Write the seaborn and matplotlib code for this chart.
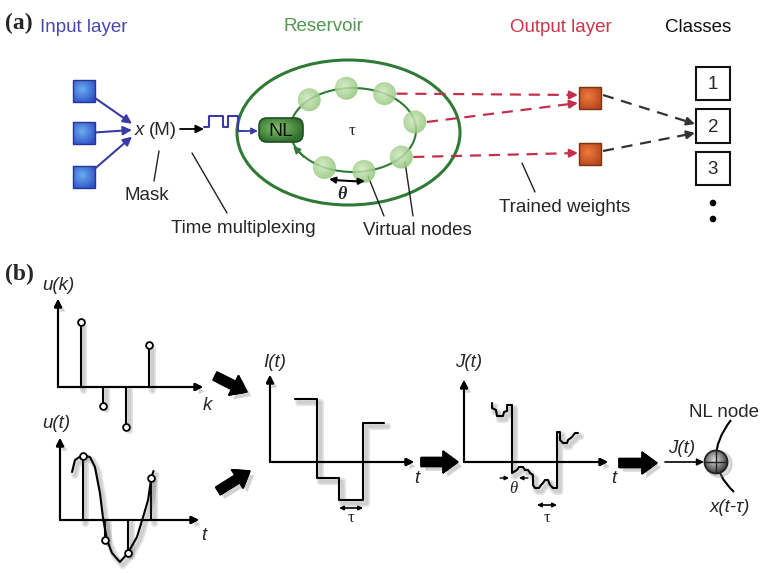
import numpy as np
import pandas as pd
import matplotlib
matplotlib.use("Agg")
import matplotlib.pyplot as plt
import matplotlib.patheffects as pe
from matplotlib.patches import Rectangle, Ellipse, Circle, FancyBboxPatch, FancyArrow, PathPatch
from matplotlib.path import Path
from matplotlib.colors import to_rgb
import seaborn as sns

# ---------------- data ----------------
input_nodes = ["in1", "in2", "in3"]
virtual_node_angles = [134, 96, 60, 11, -40, -80, -117]
connected_nodes = [60, 11, -40]
output_nodes = ["out1", "out2"]
class_labels = ["1", "2", "3"]
mask_levels = [0, 1, 0, 1, -0.35]

uk_k = [1, 2, 3, 4]
uk_val = [6.5, -1.9, -4.0, 4.2]

ut_t = [1, 2, 3, 4]
ut_val = [6.4, -2.0, -3.3, 4.2]
ut_curve_t = [0.53, 0.66, 1.0, 1.32, 1.54, 1.76, 1.89, 2.07, 2.29, 2.64, 2.99, 3.39, 3.66, 3.88, 4.02, 4.12]
ut_curve_v = [4.8, 6.0, 6.5, 6.3, 5.3, 2.7, 0.3, -2.0, -3.3, -4.2, -3.3, -1.7, 0.3, 2.0, 4.2, 4.9]

it_edges = [1.14, 2.14, 3.14, 4.23, 5.18]
it_levels = [6.3, -1.6, -3.8, 3.9]

jt_t = [2.8, 2.8, 3.2, 3.3, 3.9, 4.0, 4.3, 4.3, 4.8, 4.8, 5.3, 5.5, 5.9, 6.1, 6.4, 6.6,
        6.9, 6.9, 7.1, 7.5, 7.7, 7.9, 8.1, 8.4, 8.6, 8.9, 9.3, 9.3, 9.6, 9.6, 9.9,
        10.3, 10.4, 10.8, 11.1, 11.4]
jt_val = [5.9, 5.4, 5.2, 4.6, 4.6, 5.0, 5.1, 5.7, 5.7, -1.1, -0.8, -0.5, -0.5, -0.8, -0.8, -1.1,
          -1.3, -2.3, -2.6, -2.6, -2.3, -2.1, -1.8, -1.8, -2.3, -2.6, -2.6, 3.0, 3.0, 2.2, 1.9,
          1.9, 2.2, 2.5, 2.9, 2.9]

# ---------------- style ----------------
sns.set_theme(style="white")
plt.rcParams["font.family"] = ["Liberation Sans", "DejaVu Sans"]
W, H = 764, 573
FS = 13.5
BLUE_T = "#4a46b0"
BLUE = "#3a3aa8"
GREEN_T = "#4f9a4f"
GREEN = "#2f7a34"
RED_T = "#cc3448"
RED = "#c2304c"

fig = plt.figure(figsize=(W / 100, H / 100), dpi=100)
ax = fig.add_axes([0, 0, 1, 1])
ax.set_xlim(0, W)
ax.set_ylim(H, 0)
ax.axis("off")


def grad_img(inner, outer, n=48, spread=1.3):
    yy, xx = np.mgrid[-1:1:n * 1j, -1:1:n * 1j]
    r = np.clip(np.hypot(xx + 0.15, yy + 0.15) / spread, 0, 1)[..., None]
    return np.array(to_rgb(inner)) * (1 - r) + np.array(to_rgb(outer)) * r


def grad_patch(patch, inner, outer, bbox, alpha=1.0, z=3, spread=1.3):
    x0, y0, x1, y1 = bbox
    ax.add_patch(patch)
    im = ax.imshow(grad_img(inner, outer, spread=spread), extent=(x0, x1, y1, y0),
                   interpolation="bilinear", zorder=z, alpha=alpha, aspect="auto")
    im.set_clip_path(patch)


def arrowhead(p1, u, color, lw=1.4, ms=12, z=5):
    p1 = np.array(p1, float)
    ax.annotate("", xy=p1, xytext=p1 - 6 * u,
                arrowprops=dict(arrowstyle="-|>", color=color, lw=lw, mutation_scale=ms,
                                shrinkA=0, shrinkB=0), zorder=z)


def dashed_arrow(p0, p1, color, lw=1.6):
    p0 = np.array(p0, float); p1 = np.array(p1, float)
    u = (p1 - p0) / np.linalg.norm(p1 - p0)
    e = p1 - 8 * u
    ax.plot([p0[0], e[0]], [p0[1], e[1]], color=color, lw=lw, ls=(0, (5, 3.5)), zorder=4)
    arrowhead(p1, u, color, lw=lw)


def solid_arrow(p0, p1, color, lw=1.5, ms=12, z=5):
    ax.annotate("", xy=p1, xytext=p0,
                arrowprops=dict(arrowstyle="-|>", color=color, lw=lw, mutation_scale=ms,
                                shrinkA=0, shrinkB=0), zorder=z)

# ---------------- panel (a) ----------------
ax.text(5, 29, "(a)", fontfamily="Liberation Serif", fontweight="bold", fontsize=17, va="baseline")
ax.text(40, 32, "Input layer", color=BLUE_T, fontsize=FS, va="baseline")
ax.text(323, 31, "Reservoir", color=GREEN_T, fontsize=FS, va="baseline", ha="center")
ax.text(561, 32, "Output layer", color=RED_T, fontsize=FS, va="baseline", ha="center")
ax.text(698, 32, "Classes", color="#111111", fontsize=FS, va="baseline", ha="center")

# input squares
in_y = [91, 133, 177]
for i, name in enumerate(input_nodes):
    cy = in_y[i]
    grad_patch(Rectangle((73, cy - 11), 22, 22, facecolor="none", edgecolor="none"),
               "#6aaef0", "#2d4fc4", (72, cy - 12, 96, cy + 12))
    ax.add_patch(Rectangle((73, cy - 11), 22, 22, facecolor="none", edgecolor="#25359a", lw=1.0, zorder=4))
    solid_arrow((95, cy + (130 - cy) * 0.18), (132, 130 + (cy - 133) * 0.15), BLUE, lw=1.5, ms=13)

ax.text(135, 135, "x", fontstyle="italic", fontsize=FS, va="baseline")
ax.text(149, 135, "(M)", fontsize=FS, va="baseline")
solid_arrow((180, 129), (204, 129), "black", lw=1.3, ms=12)

# mask square wave
wx, wy = [], []
xs_steps = [204, 209, 223, 228, 238, 242]
for j, lv in enumerate(mask_levels):
    wx += [xs_steps[j], xs_steps[j + 1]]
    wy += [127 - 11 * lv, 127 - 11 * lv]
ax.plot(wx, wy, color=BLUE, lw=1.5, zorder=4)
solid_arrow((242, 131), (258, 131), BLUE, lw=1.3, ms=9)

ax.plot([159, 154], [151, 181], color="#222", lw=1.0)
ax.text(147, 200, "Mask", fontsize=FS, ha="center", va="baseline")
ax.plot([192, 227], [153, 213], color="#222", lw=1.0)
ax.text(171, 233, "Time multiplexing", fontsize=FS, va="baseline")

# reservoir
ax.add_patch(Ellipse((348.5, 132.5), 223, 145, facecolor="none", edgecolor=GREEN, lw=2.2, zorder=2))
ax.add_patch(Ellipse((353, 130), 126, 84, facecolor="none", edgecolor=GREEN, lw=1.5, zorder=2))
solid_arrow((304, 157), (293, 146), GREEN, lw=1.4, ms=10)
ax.text(352, 131, "τ", fontfamily="Liberation Serif", fontsize=12, ha="center", va="center")

node_pos = {}
for ang in virtual_node_angles:
    cx = 353 + 63 * np.cos(np.radians(ang))
    cy = 130 - 42 * np.sin(np.radians(ang))
    node_pos[ang] = (cx, cy)
    grad_patch(Circle((cx, cy), 11.5, facecolor="none", edgecolor="none"),
               "#cfe8bd", "#8cc274", (cx - 12, cy - 12, cx + 12, cy + 12), alpha=0.85, z=3)

nl = FancyBboxPatch((259, 118), 44, 24, boxstyle="round,pad=0,rounding_size=8",
                    facecolor="none", edgecolor="#1f5020", lw=1.2, zorder=6)
grad_patch(FancyBboxPatch((259, 118), 44, 24, boxstyle="round,pad=0,rounding_size=8",
                          facecolor="none", edgecolor="none"),
           "#86c46e", "#2f6e2c", (259, 118, 303, 142), z=5, spread=1.2)
ax.add_patch(nl)
ax.text(281, 131, "NL", fontsize=14, ha="center", va="center", color="#111", zorder=7)

ax.annotate("", xy=(365, 181), xytext=(329, 179),
            arrowprops=dict(arrowstyle="<|-|>", color="black", lw=1.5, mutation_scale=9,
                            shrinkA=0, shrinkB=0, connectionstyle="arc3,rad=0.05"), zorder=6)
ax.text(342, 199, "θ", fontfamily="Liberation Serif", fontstyle="italic", fontweight="bold",
        fontsize=13, ha="center", va="baseline")

ax.plot([368, 384], [176, 216], color="#222", lw=1.0)
ax.plot([405, 413], [162, 216], color="#222", lw=1.0)
ax.text(417, 235, "Virtual nodes", fontsize=FS, ha="center", va="baseline")

# output layer
out_y = [98, 154]
targets = [(578, 95), (578, 103), (578, 153)]
for ang, tgt in zip(connected_nodes, targets):
    cx, cy = node_pos[ang]
    dashed_arrow((cx + 12, cy), tgt, RED)
for i, name in enumerate(output_nodes):
    cy = out_y[i]
    grad_patch(Rectangle((579, cy - 11), 22, 22, facecolor="none", edgecolor="none"),
               "#f07a3e", "#b4461c", (578, cy - 12, 602, cy + 12), z=5)
    ax.add_patch(Rectangle((579, cy - 11), 22, 22, facecolor="none", edgecolor="#7a3312", lw=1.0, zorder=6))
dashed_arrow((603, 95), (695, 124), "#333333")
dashed_arrow((603, 151), (695, 133), "#333333")

ax.plot([522, 535], [163, 192], color="#222", lw=1.0)
ax.text(499, 212, "Trained weights", fontsize=FS, va="baseline")

class_y = [(67, 100), (109, 143), (152, 185)]
for lab, (y0, y1) in zip(class_labels, class_y):
    ax.add_patch(Rectangle((696, y0), 34, y1 - y0, facecolor="white", edgecolor="#111", lw=1.5, zorder=5))
    ax.text(713, (y0 + y1) / 2 + 1, lab, fontsize=FS, ha="center", va="center", zorder=6)
for yy in [203, 219]:
    ax.add_patch(Circle((713, yy), 2.6, color="black"))

# ---------------- panel (b) ----------------
ax.text(5, 280, "(b)", fontfamily="Liberation Serif", fontweight="bold", fontsize=17, va="baseline")

SH = [pe.SimpleLineShadow(offset=(2, -2.5), shadow_color="0.3", alpha=0.16, linewidth=5),
      pe.SimpleLineShadow(offset=(2, -2.5), shadow_color="0.3", alpha=0.12, linewidth=2.5),
      pe.Normal()]
PSH = [pe.withSimplePatchShadow(offset=(3, -3), shadow_rgbFace="0.3", alpha=0.25)]


def inset(ox, oy, sx, sy, x0, y0, x1, y1):
    a = fig.add_axes([x0 / W, 1 - y1 / H, (x1 - x0) / W, (y1 - y0) / H])
    a.set_xlim((x0 - ox) / sx, (x1 - ox) / sx)
    a.set_ylim((oy - y1) / sy, (oy - y0) / sy)
    a.axis("off")
    a.patch.set_alpha(0)
    return a


def axes_arrows(a, xend, yend):
    for xy in [(xend, 0), (0, yend)]:
        an = a.annotate("", xy=xy, xytext=(0, 0),
                        arrowprops=dict(arrowstyle="-|>", color="black", lw=1.5, mutation_scale=11,
                                        shrinkA=0, shrinkB=0))
        an.arrow_patch.set_path_effects(PSH + [pe.Normal()])


def stems(a, xs, vs):
    for x, v in zip(xs, vs):
        a.plot([x, x], [0, v], color="black", lw=1.5, path_effects=SH)
    sns.scatterplot(x=xs, y=vs, ax=a, marker="o", s=24, facecolor="white",
                    edgecolor="black", linewidth=1.3, zorder=5, legend=False)


# u(k)
a1 = inset(58, 387, 22.7, 10, 45, 290, 215, 445)
axes_arrows(a1, (203 - 58) / 22.7, (387 - 299) / 10)
stems(a1, uk_k, uk_val)
ax.text(42, 290, "u(k)", fontstyle="italic", fontsize=FS, va="baseline")
ax.text(203, 410, "k", fontstyle="italic", fontsize=FS, va="baseline")

# u(t)
a2 = inset(60, 520, 22.7, 10, 45, 430, 215, 575)
axes_arrows(a2, (199 - 60) / 22.7, (520 - 438) / 10)
stems(a2, ut_t, ut_val)
sns.lineplot(x=ut_curve_t, y=ut_curve_v, ax=a2, sort=False, estimator=None, color="black", lw=1.5)
a2.lines[-1].set_path_effects(SH)
ax.text(42, 428, "u(t)", fontstyle="italic", fontsize=FS, va="baseline")
ax.text(201, 540, "t", fontstyle="italic", fontsize=FS, va="baseline")

# I(t)
a3 = inset(270, 462, 22, 10, 255, 365, 430, 530)
axes_arrows(a3, (414 - 270) / 22, (462 - 375) / 10)
ix = np.repeat(it_edges, 2)[1:-1]
iy = np.repeat(it_levels, 2)
sns.lineplot(x=ix, y=iy, ax=a3, sort=False, estimator=None, color="black", lw=1.5)
a3.lines[-1].set_path_effects(SH)
a3.annotate("", xy=(it_edges[3], -4.6), xytext=(it_edges[2], -4.6),
            arrowprops=dict(arrowstyle="<|-|>", color="black", lw=1.2, mutation_scale=6, shrinkA=0, shrinkB=0))
ax.text(351, 522, "τ", fontfamily="Liberation Serif", fontsize=12, ha="center", va="baseline")
ax.text(263, 367, "I(t)", fontstyle="italic", fontsize=FS, va="baseline")
ax.text(414, 483, "t", fontstyle="italic", fontsize=FS, va="baseline")

# J(t)
a4 = inset(464, 462, 10, 10, 450, 365, 625, 530)
axes_arrows(a4, (608 - 464) / 10, (462 - 380) / 10)
sns.lineplot(x=jt_t, y=jt_val, ax=a4, sort=False, estimator=None, color="black", lw=1.5)
a4.lines[-1].set_path_effects(SH)
for xs_, xe_ in [(3.6, 4.5), (6.4, 5.5)]:
    a4.annotate("", xy=(xe_, -1.6), xytext=(xs_, -1.6),
                arrowprops=dict(arrowstyle="-|>", color="black", lw=1.0, mutation_scale=6, shrinkA=0, shrinkB=0))
a4.annotate("", xy=(9.3, -4.3), xytext=(7.3, -4.3),
            arrowprops=dict(arrowstyle="<|-|>", color="black", lw=1.2, mutation_scale=6, shrinkA=0, shrinkB=0))
ax.text(513, 493, "θ", fontfamily="Liberation Serif", fontstyle="italic", fontsize=12, ha="center", va="baseline")
ax.text(547, 522, "τ", fontfamily="Liberation Serif", fontsize=12, ha="center", va="baseline")
ax.text(455, 367, "J(t)", fontstyle="italic", fontsize=FS, va="baseline")
ax.text(611, 483, "t", fontstyle="italic", fontsize=FS, va="baseline")

# big arrows
for (x0, y0, x1, y1) in [(215, 376, 247, 392), (218, 491, 250, 471), (421, 462, 458, 462), (619, 463, 657, 463)]:
    fa = FancyArrow(x0, y0, x1 - x0, y1 - y0, width=9, head_width=22, head_length=15,
                    length_includes_head=True, color="black", zorder=5)
    fa.set_path_effects(PSH + [pe.Normal()])
    ax.add_patch(fa)

# NL node
solid_arrow((665, 462), (704, 462), "black", lw=1.2, ms=10)
ax.text(668, 453, "J(t)", fontstyle="italic", fontsize=FS, va="baseline")
arc = PathPatch(Path([(731, 420), (700, 460), (734, 492)], [Path.MOVETO, Path.CURVE3, Path.CURVE3]),
                facecolor="none", edgecolor="black", lw=1.5, zorder=4)
ax.add_patch(arc)
ax.add_patch(Circle((719, 464), 13, color="0.55", alpha=0.3, zorder=4))
grad_patch(Circle((716, 462), 11.5, facecolor="none", edgecolor="none"),
           "#e0e0e0", "#404040", (704.5, 450.5, 727.5, 473.5), z=5, spread=1.15)
ax.add_patch(Circle((716, 462), 11.5, facecolor="none", edgecolor="#222", lw=1.3, zorder=6))
ax.plot([705, 727], [462, 462], color="#222", lw=1.0, zorder=6)
ax.plot([716, 716], [451, 473], color="#222", lw=1.0, zorder=6)
ax.text(689, 417, "NL node", fontsize=FS, va="baseline")
ax.text(710, 512, "x(t-τ)", fontstyle="italic", fontsize=FS, va="baseline")

ax.set_xlim(0, W)
ax.set_ylim(H, 0)
fig.savefig("out.png", dpi=100)
